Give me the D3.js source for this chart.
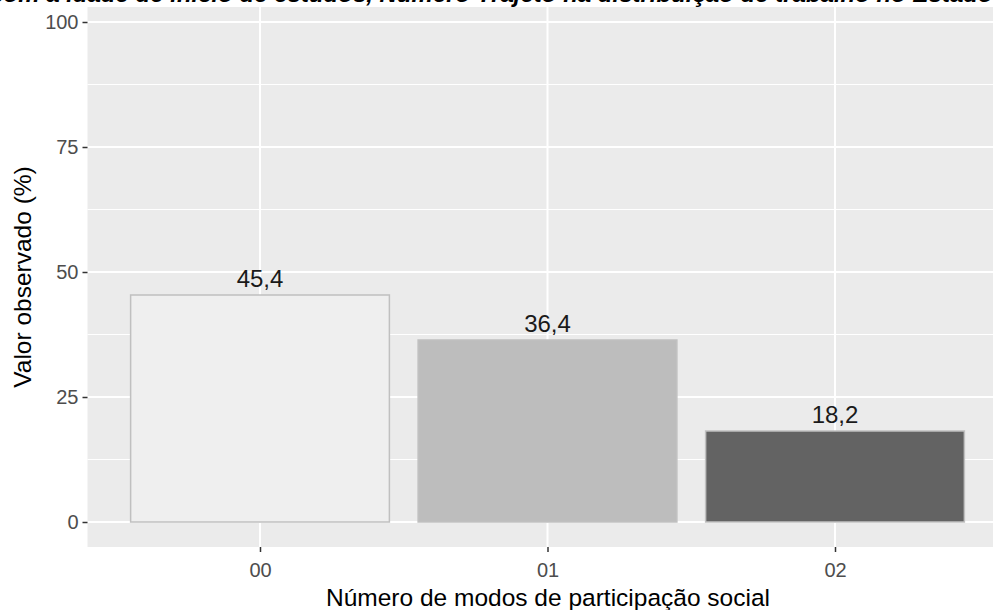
<!DOCTYPE html>
<html>
<head>
<meta charset="utf-8">
<script src="https://cdn.jsdelivr.net/npm/d3@7"></script>
<style>
  html, body { margin: 0; padding: 0; background: #ffffff; }
  svg { display: block; font-family: Arial, "Liberation Sans", sans-serif; }
</style>
</head>
<body>
<svg id="chart" width="993" height="610"></svg>
<script>
// ---- data ----
const categories = ["00", "01", "02"];
const values = [45.4, 36.4, 18.2];
const valueLabels = ["45,4", "36,4", "18,2"];
const barFills = ["#efefef", "#bdbdbd", "#636363"];
const yTicks = [0, 25, 50, 75, 100];
const yMinorTicks = [12.5, 37.5, 62.5, 87.5];
const titleText = "Associação com a idade de início de estudos, Número Trajeto na distribuição de trabalho no Estado de São Paulo";
const xTitle = "Número de modos de participação social";
const yTitle = "Valor observado (%)";

// ---- layout ----
const W = 993, H = 610;
const panel = { left: 87.5, right: 1007.5, top: 7, bottom: 547 };
const svg = d3.select("#chart");

const step = (panel.right - panel.left) / (categories.length - 1 + 1.2);
const x = d3.scalePoint()
  .domain(categories)
  .range([panel.left + 0.6 * step, panel.right - 0.6 * step]);
const barW = step * 0.9;

const y = d3.scaleLinear().domain([-5, 103]).range([panel.bottom, panel.top]);

// panel background
svg.append("rect")
  .attr("x", panel.left).attr("y", panel.top)
  .attr("width", panel.right - panel.left).attr("height", panel.bottom - panel.top)
  .attr("fill", "#ebebeb");

const grid = svg.append("g");
grid.selectAll("line.minor").data(yMinorTicks).join("line")
  .attr("x1", panel.left).attr("x2", panel.right)
  .attr("y1", d => y(d)).attr("y2", d => y(d))
  .attr("stroke", "#ffffff").attr("stroke-width", 1);
grid.selectAll("line.major").data(yTicks).join("line")
  .attr("x1", panel.left).attr("x2", panel.right)
  .attr("y1", d => y(d)).attr("y2", d => y(d))
  .attr("stroke", "#ffffff").attr("stroke-width", 2);
grid.selectAll("line.vmajor").data(categories).join("line")
  .attr("x1", d => x(d)).attr("x2", d => x(d))
  .attr("y1", panel.top).attr("y2", panel.bottom)
  .attr("stroke", "#ffffff").attr("stroke-width", 2);

// bars
svg.append("g").selectAll("rect").data(categories).join("rect")
  .attr("x", d => x(d) - barW / 2)
  .attr("y", (d, i) => y(values[i]))
  .attr("width", barW)
  .attr("height", (d, i) => y(0) - y(values[i]))
  .attr("fill", (d, i) => barFills[i])
  .attr("stroke", "#c0c0c0")
  .attr("stroke-width", 1.5);

// bar labels
svg.append("g").selectAll("text").data(categories).join("text")
  .attr("x", d => x(d))
  .attr("y", (d, i) => y(values[i]) - 8)
  .attr("text-anchor", "middle")
  .attr("font-size", 24)
  .attr("fill", "#1a1a1a")
  .text((d, i) => valueLabels[i]);

// y axis
const yAxis = d3.axisLeft(y).tickValues(yTicks).tickSize(5).tickPadding(4);
const gy = svg.append("g").attr("transform", `translate(${panel.left},0)`).call(yAxis);
gy.select(".domain").remove();
gy.selectAll(".tick line").attr("stroke", "#333333").attr("stroke-width", 1.5);
gy.selectAll(".tick text").attr("fill", "#4d4d4d").attr("font-size", 20)
  .attr("font-family", "Arial, 'Liberation Sans', sans-serif");

// x axis
const xAxis = d3.axisBottom(x).tickSize(5).tickPadding(11);
const gx = svg.append("g").attr("transform", `translate(0,${panel.bottom})`).call(xAxis);
gx.select(".domain").remove();
gx.selectAll(".tick line").attr("stroke", "#333333").attr("stroke-width", 1.5);
gx.selectAll(".tick text").attr("fill", "#4d4d4d").attr("font-size", 20)
  .attr("font-family", "Arial, 'Liberation Sans', sans-serif");

// axis titles
svg.append("text")
  .attr("x", 548).attr("y", 606)
  .attr("text-anchor", "middle").attr("font-size", 24.5).attr("fill", "#000")
  .text(xTitle);

svg.append("text")
  .attr("transform", `translate(31,${(panel.top + panel.bottom) / 2}) rotate(-90)`)
  .attr("text-anchor", "middle").attr("font-size", 24.5).attr("fill", "#000")
  .text(yTitle);

// title (clipped at top, as in the reference)
svg.append("text")
  .attr("x", 500).attr("y", 2)
  .attr("text-anchor", "middle").attr("font-size", 24)
  .attr("font-weight", "bold").attr("font-style", "italic").attr("fill", "#000")
  .text(titleText);
</script>
</body>
</html>
